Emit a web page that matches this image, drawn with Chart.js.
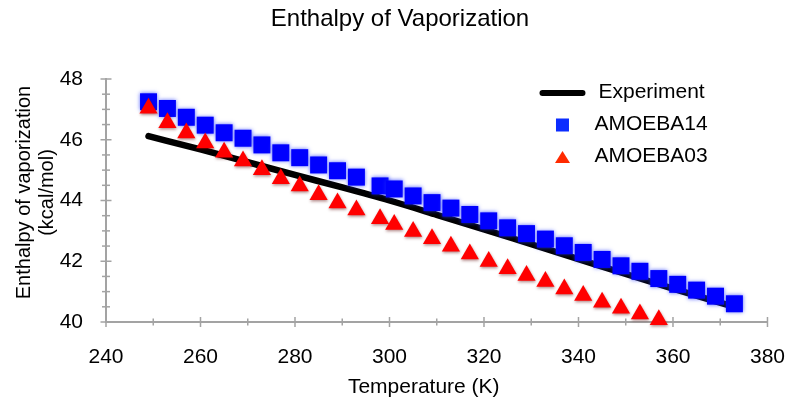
<!DOCTYPE html>
<html>
<head>
<meta charset="utf-8">
<script src="https://cdn.jsdelivr.net/npm/chart.js@4.4.1/dist/chart.umd.min.js"></script>
<style>
html,body{margin:0;padding:0;background:#fff;}
#wrap{width:800px;height:406px;}
</style>
</head>
<body>
<div id="wrap"><canvas id="c" width="800" height="406"></canvas></div>
<script>
// ---- data ----
const chartTitle = 'Enthalpy of Vaporization';
const xAxisTitle = 'Temperature (K)';
const yAxisTitle = ['Enthalpy of vaporization', '(kcal/mol)'];
const seriesNames = ['Experiment', 'AMOEBA14', 'AMOEBA03'];

const expTemps  = [249, 260, 270, 280, 290, 300, 310, 320, 330, 340, 350, 360, 373];
const expValues = [46.12, 45.68, 45.26, 44.84, 44.43, 44.00, 43.53, 43.05, 42.56, 42.07, 41.58, 41.10, 40.50];

const a14Temps  = [249, 253, 257, 261, 265, 269, 273, 277, 281, 285, 289, 293, 298, 301, 305, 309,
                   313, 317, 321, 325, 329, 333, 337, 341, 345, 349, 353, 357, 361, 365, 369, 373];
const a14Values = [47.25, 47.03, 46.74, 46.48, 46.23, 46.05, 45.83, 45.57, 45.41, 45.17, 44.98, 44.77,
                   44.48, 44.38, 44.15, 43.93, 43.75, 43.54, 43.33, 43.10, 42.91, 42.73, 42.51, 42.29,
                   42.06, 41.85, 41.67, 41.43, 41.24, 41.05, 40.85, 40.60];

const a03Temps  = [249, 253, 257, 261, 265, 269, 273, 277, 281, 285, 289, 293, 298, 301, 305, 309,
                   313, 317, 321, 325, 329, 333, 337, 341, 345, 349, 353, 357];
const a03Values = [47.04, 46.56, 46.22, 45.89, 45.59, 45.30, 45.01, 44.72, 44.48, 44.19, 43.92, 43.69,
                   43.40, 43.21, 42.98, 42.74, 42.49, 42.24, 41.99, 41.75, 41.53, 41.33, 41.09, 40.87,
                   40.65, 40.45, 40.26, 40.07];

const xTickLabels = [240, 260, 280, 300, 320, 340, 360, 380];
const yTickLabels = [40, 42, 44, 46, 48];

// ---- helpers ----
const FONT = '"Liberation Sans", Arial, Helvetica, sans-serif';
const AXIS_COLOR = '#a3a3a3';
const toXY = (xs, ys) => xs.map((x, i) => ({x: x, y: ys[i]}));

const shadowPlugin = {
  id: 'shadowPlugin',
  beforeDatasetDraw(chart, args) {
    const ds = chart.data.datasets[args.index];
    const ctx = chart.ctx;
    ctx.save();
    if (ds.shadow) {
      ctx.shadowColor = ds.shadow.color;
      ctx.shadowBlur = ds.shadow.blur;
      ctx.shadowOffsetX = ds.shadow.dx;
      ctx.shadowOffsetY = ds.shadow.dy;
    }
  },
  afterDatasetDraw(chart) {
    chart.ctx.restore();
  }
};

const ticksPlugin = {
  id: 'ticksPlugin',
  beforeDatasetsDraw(chart) {
    const ctx = chart.ctx;
    const xs = chart.scales.x, ys = chart.scales.y;
    const area = chart.chartArea;
    ctx.save();
    ctx.strokeStyle = AXIS_COLOR;
    ctx.lineWidth = 1.5;
    xs.ticks.forEach(t => {
      const px = xs.getPixelForValue(t.value);
      const h = xTickLabels.includes(t.value) ? 5 : 3.5;
      ctx.beginPath();
      ctx.moveTo(px, area.bottom - h);
      ctx.lineTo(px, area.bottom + h);
      ctx.stroke();
    });
    ys.ticks.forEach(t => {
      const py = ys.getPixelForValue(t.value);
      const h = yTickLabels.includes(t.value) ? 5.5 : 4;
      ctx.beginPath();
      ctx.moveTo(area.left - h, py);
      ctx.lineTo(area.left + h, py);
      ctx.stroke();
    });
    ctx.restore();
  }
};

const textPlugin = {
  id: 'textPlugin',
  afterDraw(chart) {
    const ctx = chart.ctx;
    const area = chart.chartArea;
    ctx.save();
    ctx.fillStyle = '#000';
    ctx.textAlign = 'center';
    ctx.textBaseline = 'middle';
    // chart title
    ctx.font = '24px ' + FONT;
    ctx.fillText(chartTitle, chart.width / 2, 19.5);
    // x axis title
    ctx.font = '21px ' + FONT;
    ctx.fillText(xAxisTitle, (area.left + area.right) / 2 - 13, area.bottom + 65);
    // y axis title
    ctx.font = '20px ' + FONT;
    const cy = (area.top + area.bottom) / 2 - 8;
    yAxisTitle.forEach((line, i) => {
      ctx.save();
      ctx.translate(24 + i * 23, cy);
      ctx.rotate(-Math.PI / 2);
      ctx.fillText(line, 0, 0);
      ctx.restore();
    });
    ctx.restore();
  }
};

const legendPlugin = {
  id: 'legendPlugin',
  afterDraw(chart) {
    const ctx = chart.ctx;
    const area = chart.chartArea;
    const ds = chart.data.datasets;
    const lx = area.right - 205;   // symbol center
    const tx = area.right - 173;   // text start
    const y0 = area.top + 14;
    const gap = 32;
    ctx.save();
    ctx.font = '21px ' + FONT;
    ctx.textBaseline = 'middle';
    ctx.textAlign = 'left';
    // line
    ctx.strokeStyle = ds[0].borderColor;
    ctx.lineWidth = 6;
    ctx.lineCap = 'round';
    ctx.beginPath();
    ctx.moveTo(lx - 20, y0);
    ctx.lineTo(lx + 20, y0);
    ctx.stroke();
    ctx.fillStyle = '#000';
    ctx.fillText(ds[0].label, tx + 4, y0 - 1);
    // square
    ctx.fillStyle = '#0b2cff';
    ctx.fillRect(lx - 6.5, y0 + gap - 6.5, 13, 13);
    ctx.fillStyle = '#000';
    ctx.fillText(ds[1].label, tx, y0 + gap - 1);
    // triangle
    ctx.fillStyle = '#ff2a00';
    ctx.beginPath();
    ctx.moveTo(lx, y0 + 2 * gap - 6);
    ctx.lineTo(lx + 7.5, y0 + 2 * gap + 6);
    ctx.lineTo(lx - 7.5, y0 + 2 * gap + 6);
    ctx.closePath();
    ctx.fill();
    ctx.fillStyle = '#000';
    ctx.fillText(ds[2].label, tx, y0 + 2 * gap - 1);
    ctx.restore();
  }
};

new Chart(document.getElementById('c'), {
  type: 'scatter',
  data: {
    datasets: [
      {
        label: seriesNames[0],
        data: toXY(expTemps, expValues),
        showLine: true,
        borderColor: '#000000',
        borderWidth: 6.5,
        borderCapStyle: 'round',
        borderJoinStyle: 'round',
        cubicInterpolationMode: 'monotone',
        pointRadius: 0,
        pointHoverRadius: 0,
        order: 3,
        clip: false
      },
      {
        label: seriesNames[1],
        data: toXY(a14Temps, a14Values),
        pointStyle: 'rect',
        pointRadius: 12,
        pointHoverRadius: 12,
        pointBackgroundColor: '#0000fe',
        pointBorderWidth: 0,
        order: 2,
        clip: false,
        shadow: {color: 'rgba(40,60,255,0.75)', blur: 4, dx: 0, dy: 0}
      },
      {
        label: seriesNames[2],
        data: toXY(a03Temps, a03Values),
        pointStyle: 'triangle',
        pointRadius: 10.5,
        pointHoverRadius: 10.5,
        pointBackgroundColor: '#ff0000',
        pointBorderWidth: 0,
        order: 1,
        clip: false,
        shadow: {color: 'rgba(90,0,0,0.45)', blur: 3, dx: 0.5, dy: 1.5}
      }
    ]
  },
  options: {
    responsive: false,
    animation: false,
    devicePixelRatio: 1,
    events: [],
    layout: {padding: {left: 0, right: 30, top: 79, bottom: 0}},
    plugins: {
      legend: {display: false},
      tooltip: {enabled: false},
      title: {display: false}
    },
    scales: {
      x: {
        type: 'linear',
        min: 240, max: 380,
        grid: {display: false},
        border: {display: true, color: AXIS_COLOR, width: 2},
        ticks: {
          stepSize: 10,
          autoSkip: false,
          maxRotation: 0,
          padding: 15,
          color: '#000',
          font: {family: FONT, size: 21},
          callback: v => xTickLabels.includes(v) ? String(v) : ''
        },
        afterFit: s => { s.height = 84; }
      },
      y: {
        type: 'linear',
        min: 40, max: 48,
        grid: {display: false},
        border: {display: true, color: AXIS_COLOR, width: 2},
        ticks: {
          stepSize: 0.5,
          autoSkip: false,
          padding: 15,
          color: '#000',
          font: {family: FONT, size: 21},
          callback: v => yTickLabels.includes(v) ? String(v) : ''
        },
        afterFit: s => { s.width = 106; }
      }
    }
  },
  plugins: [shadowPlugin, ticksPlugin, textPlugin, legendPlugin]
});
</script>
</body>
</html>
